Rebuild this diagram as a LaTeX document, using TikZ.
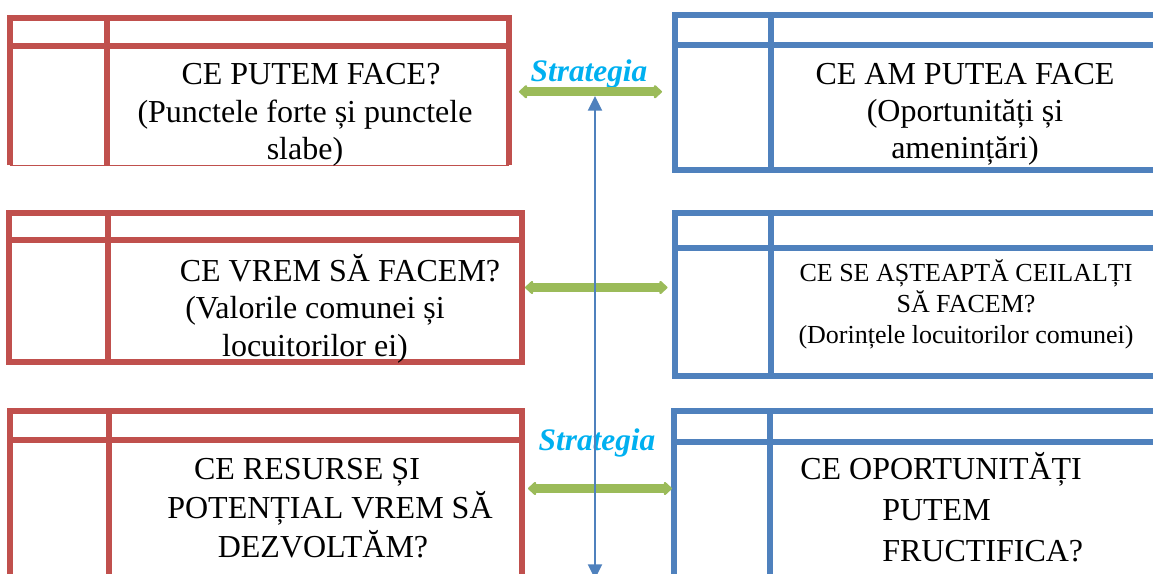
\documentclass[tikz,border=0pt]{standalone}
\usepackage{fontspec}
\setmainfont{Liberation Serif}
\usetikzlibrary{arrows.meta, positioning, calc}
\definecolor{boxred}{RGB}{192,80,77}
\definecolor{boxblue}{RGB}{79,129,189}
\definecolor{linkgreen}{RGB}{155,187,89}
\definecolor{labelcyan}{RGB}{0,176,240}

\begin{document}
\begin{tikzpicture}[
  x=0.75pt, y=-0.75pt,
  tblframe/.style={inner sep=0pt, outer sep=0pt},
  redrule/.style={boxred, line width=4.5pt},
  bluerule/.style={boxblue, line width=4.5pt},
  txt/.style={align=center, anchor=base, inner sep=0pt, font=\fontsize{24}{28.1}\selectfont},
  strat/.style={anchor=base, inner sep=0pt, text=labelcyan, font=\fontsize{23.5}{28}\selectfont\bfseries\itshape},
  link/.style={{Triangle[length=6.5pt, width=11.5pt, round]}-{Triangle[length=6.5pt, width=11.5pt, round]}, linkgreen, line width=6.4pt},
  vline/.style={{Triangle[length=11pt, width=10.5pt]}-{Triangle[length=11pt, width=10.5pt]}, boxblue, line width=1.5pt}
]
\useasboundingbox (0,0) rectangle (1153,574);

% left column
\node[tblframe, minimum width=374.6pt, minimum height=109.9pt] (r1) at (259.25,91.75) {};
\node[tblframe, minimum width=384.4pt, minimum height=111.75pt] (r2) at (265.75,287.5) {};
\node[tblframe, minimum width=384pt, minimum height=141.75pt] (r3) at (266,505.5) {};

% right column
\node[tblframe, minimum width=367.5pt, minimum height=116.6pt] (b1) at (920,92.25) {};
\node[tblframe, minimum width=367.5pt, minimum height=122.6pt] (b2) at (919.5,294.25) {};
\node[tblframe, minimum width=367.9pt, minimum height=141.75pt] (b3) at (919.75,505.5) {};

\draw[redrule] (r1.south west) |- (r1.north east) -- (r1.south east);
\draw[redrule] ([yshift=-21pt]r1.north west) -- ([yshift=-21pt]r1.north east);
\draw[redrule] ([xshift=73.1pt]r1.north west) -- ([xshift=73.1pt]r1.south west);
\draw[boxred, line width=0.75pt] (r1.south west) -- (r1.south east);

\draw[redrule] (r2.south west) rectangle (r2.north east);
\draw[redrule] ([yshift=-20.6pt]r2.north west) -- ([yshift=-20.6pt]r2.north east);
\draw[redrule] ([xshift=73.9pt]r2.north west) -- ([xshift=73.9pt]r2.south west);

\draw[redrule] (r3.south west) |- (r3.north east) -- (r3.south east);
\draw[redrule] ([yshift=-21.75pt]r3.north west) -- ([yshift=-21.75pt]r3.north east);
\draw[redrule] ([xshift=74.25pt]r3.north west) -- ([xshift=74.25pt]r3.south west);

\draw[bluerule] (b1.south west) rectangle (b1.north east);
\draw[bluerule] ([yshift=-22.5pt]b1.north west) -- ([yshift=-22.5pt]b1.north east);
\draw[bluerule] ([xshift=72pt]b1.north west) -- ([xshift=72pt]b1.south west);

\draw[bluerule] (b2.south west) rectangle (b2.north east);
\draw[bluerule] ([yshift=-26.6pt]b2.north west) -- ([yshift=-26.6pt]b2.north east);
\draw[bluerule] ([xshift=72pt]b2.north west) -- ([xshift=72pt]b2.south west);

\draw[bluerule] (b3.south west) |- (b3.north east) -- (b3.south east);
\draw[bluerule] ([yshift=-22.9pt]b3.north west) -- ([yshift=-22.9pt]b3.north east);
\draw[bluerule] ([xshift=71.6pt]b3.north west) -- ([xshift=71.6pt]b3.south west);

% texts (base = last line)
\node[txt] (t1) at (305,159.5) {\hspace*{9pt}CE PUTEM FACE?\\(Punctele forte și punctele\\slabe)};
\node[txt] (t2) at (965,159) {CE AM PUTEA FACE\\(Oportunități și\\amenințări)};
\node[txt] (t3) at (315,356) {\hspace*{37.5pt}CE VREM SĂ FACEM?\\(Valorile comunei și\\locuitorilor ei)};
\node[txt, font=\fontsize{19.5}{23.25}\selectfont] (t4) at (966,343)
  {CE SE AȘTEAPTĂ CEILALȚI\\SĂ FACEM?\\(Dorințele locuitorilor comunei)};
\node[txt, font=\fontsize{24}{29.25}\selectfont] (t5) at (323,557)
  {CE RESURSE ȘI\hspace*{24pt}\\\hspace*{10.5pt}POTENȚIAL VREM SĂ\\DEZVOLTĂM?};
\node[txt, align=left, anchor=base west, font=\fontsize{24}{30.75}\selectfont] (t6) at (800,561)
  {CE OPORTUNITĂȚI\\\hspace*{61.5pt}PUTEM\\\hspace*{61.5pt}FRUCTIFICA?};

\node[strat] (st1) at (589,82) {Strategia};
\node[strat] (st2) at (597,450) {Strategia};

% connectors
\coordinate (l3) at ($(r3.east)+(0,-17)$);
\draw[link, shorten <=7.5pt, shorten >=9.75pt] (r1.east) -- (r1.east -| b1.west);
\draw[link, shorten <=2.25pt, shorten >=5.25pt] (r2.east) -- (r2.east -| b2.west);
\draw[link, shorten <=4.5pt, shorten >=1.9pt] (l3) -- (l3 -| b3.west);

\coordinate (vtop) at (595,96);
\coordinate (vbot) at (595,579);
\draw[vline] (vtop) -- (vbot);
\end{tikzpicture}
\end{document}
